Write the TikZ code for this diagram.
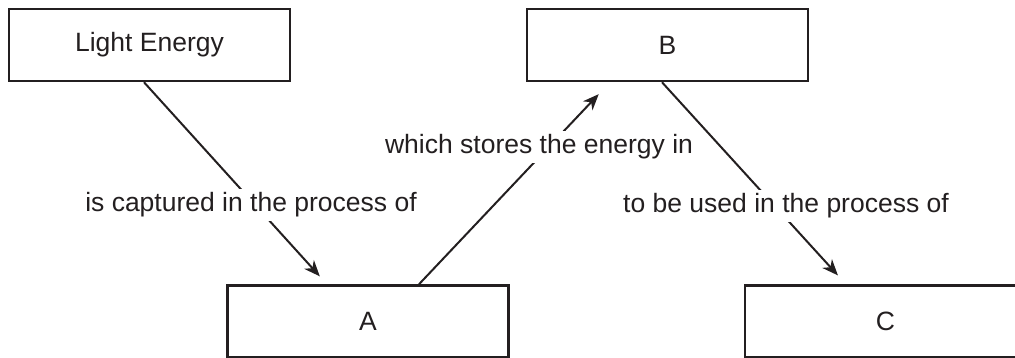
\documentclass[tikz,border=0pt]{standalone}
\usepackage{fontspec}
\setmainfont{Liberation Sans}
\usetikzlibrary{arrows.meta}
\definecolor{ink}{HTML}{231F20}
\begin{document}
\begin{tikzpicture}[x=1pt,y=-1pt,
  txt/.style={font=\fontsize{26.5}{30}\selectfont, text=ink},
  box/.style={txt, draw=ink, line width=2.5pt, minimum width=281pt, minimum height=72pt, inner sep=0pt},
  conn/.style={draw=ink, line width=2pt, -{Stealth[length=16pt,width=13pt,inset=5pt]}},
  lbl/.style={txt, fill=white, inner xsep=2pt, inner ysep=3pt, text height=19.5pt, text depth=5.6pt}]
\useasboundingbox (0,0) rectangle (1015,358);
\node[box] (LE) at (149.5,45) {Light Energy};
\node[box] (B)  at (667.5,45) {B};
\node[box] (A)  at (368,321.5) {A};
\node[box] (C)  at (885.5,321.5) {C};
\draw[conn, shorten >=10.7pt] ([xshift=-5.5pt]LE.south) -- ([xshift=-41pt]A.north);
\draw[conn, shorten >=16.4pt] ([xshift=51pt]A.north) -- ([xshift=-57.5pt]B.south);
\draw[conn, shorten >=12pt] ([xshift=-5.5pt]B.south) -- ([xshift=-39.5pt]C.north);
\node[lbl] (l1) at (251,205) {is captured in the process of};
\node[lbl] (l2) at (539,147) {which stores the energy in};
\node[lbl] (l3) at (786,206) {to be used in the process of};
\end{tikzpicture}
\end{document}
